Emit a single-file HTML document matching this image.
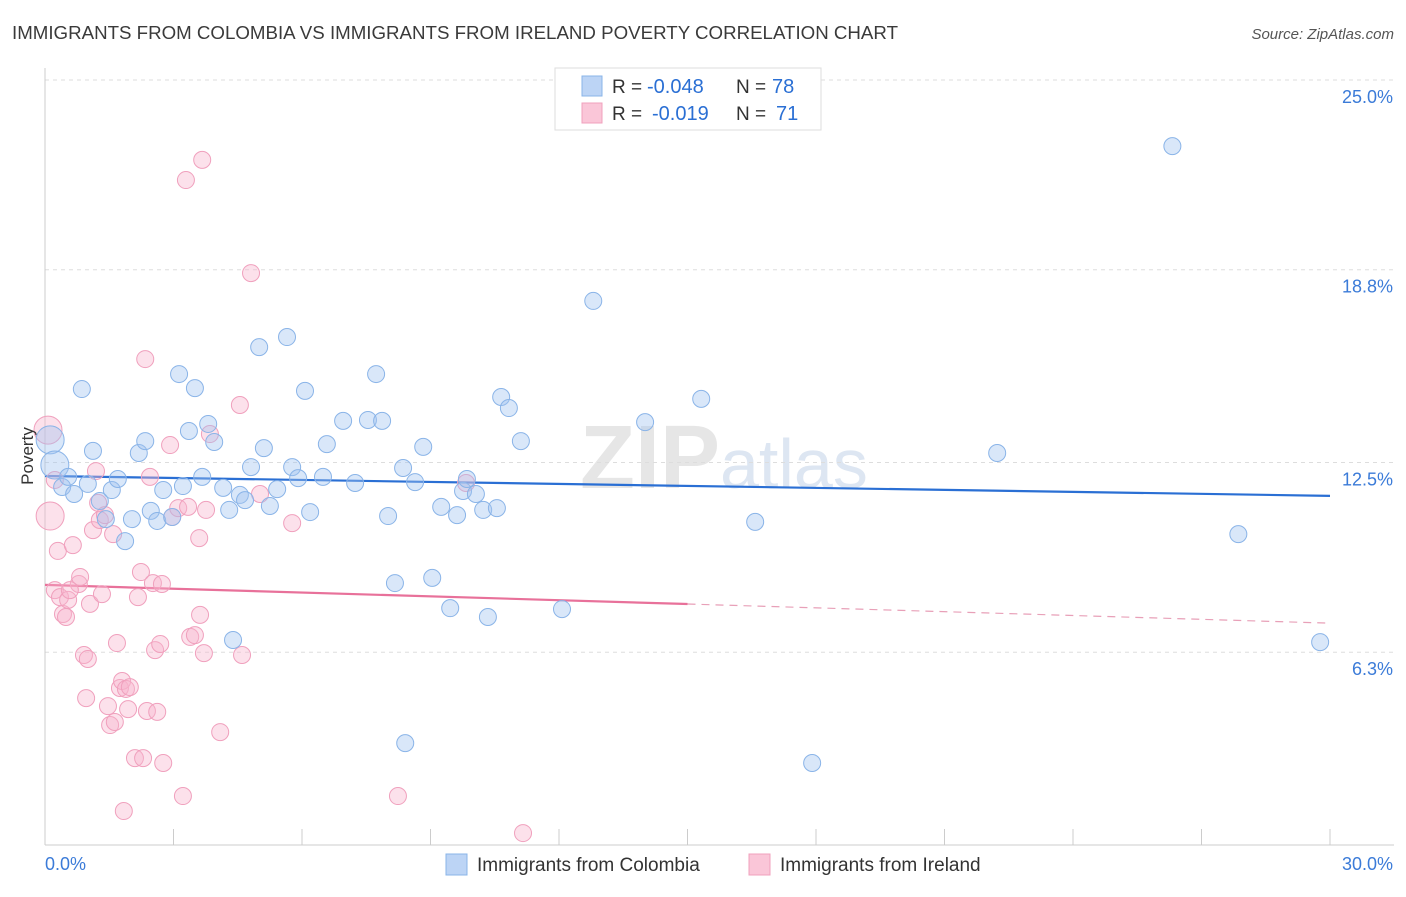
<!DOCTYPE html>
<html><head><meta charset="utf-8">
<style>
body{margin:0;background:#fff;font-family:"Liberation Sans",sans-serif;}
svg text{font-family:"Liberation Sans",sans-serif;}
</style></head>
<body>
<svg id="chart" width="1406" height="892" xmlns="http://www.w3.org/2000/svg">
<text x="12" y="39" font-size="18" fill="#3a3a3a" textLength="886" lengthAdjust="spacingAndGlyphs">IMMIGRANTS FROM COLOMBIA VS IMMIGRANTS FROM IRELAND POVERTY CORRELATION CHART</text>
<text x="1394" y="39" font-size="15" fill="#555" text-anchor="end" font-style="italic">Source: ZipAtlas.com</text>
<text x="720" y="488" font-size="90" fill="#e6e6e6" text-anchor="end" font-family="Liberation Serif" font-weight="bold">ZIP</text>
<text x="720" y="488" font-size="70" fill="#dde6f2">atlas</text>
<g id="grid"></g>
<g id="axes"></g>
<g id="lines"></g>
<g id="points"></g>
<text transform="translate(33,456) rotate(-90)" font-size="17" fill="#333" text-anchor="middle">Poverty</text>
<g>
<rect x="555" y="68" width="266" height="62" fill="#fff" stroke="#ddd"/>
<rect x="582" y="76" width="20" height="20" fill="#bcd4f5" stroke="#8ab4e8"/>
<rect x="582" y="103" width="20" height="20" fill="#fac6d8" stroke="#f0a0bd"/>
<text x="612" y="93" font-size="19" fill="#333">R =</text>
<text x="647" y="93" font-size="20" fill="#2a6fd4">-0.048</text>
<text x="736" y="93" font-size="19" fill="#333">N =</text>
<text x="772" y="93" font-size="20" fill="#2a6fd4">78</text>
<text x="612" y="120" font-size="19" fill="#333">R =</text>
<text x="652" y="120" font-size="20" fill="#2a6fd4">-0.019</text>
<text x="736" y="120" font-size="19" fill="#333">N =</text>
<text x="776" y="120" font-size="20" fill="#2a6fd4">71</text>
</g>
<g>
<rect x="446" y="854" width="21" height="21" fill="#bcd4f5" stroke="#8ab4e8"/>
<text x="477" y="871" font-size="19" fill="#333">Immigrants from Colombia</text>
<rect x="749" y="854" width="21" height="21" fill="#fac6d8" stroke="#f0a0bd"/>
<text x="780" y="871" font-size="19" fill="#333">Immigrants from Ireland</text>
</g>
</svg>
<script>
const yTicks=[25.0,18.8,12.5,6.3];
const yTickLabels=["25.0%","18.8%","12.5%","6.3%"];
const xTickLabels=["0.0%","30.0%"];
const colombiaX=[0.12,0.23,0.40,0.54,0.68,0.86,1.00,1.12,1.28,1.42,1.56,1.70,1.87,2.03,2.19,2.34,2.47,2.62,2.76,2.97,3.13,3.22,3.36,3.50,3.67,3.81,3.95,4.16,4.30,4.55,4.67,4.81,5.00,5.11,5.25,5.42,5.65,5.77,5.91,6.07,6.19,6.49,6.58,6.96,7.24,7.54,7.73,7.87,8.01,8.17,8.36,8.41,8.64,8.83,9.04,9.25,9.46,9.62,9.76,9.85,10.06,10.23,10.34,10.55,10.65,10.83,11.11,12.07,12.80,14.01,15.32,16.58,17.91,22.23,26.32,27.86,29.77,4.39];
const colombiaY=[13.24,12.42,11.70,12.03,11.47,14.90,11.80,12.88,11.24,10.65,11.60,11.96,9.93,10.65,12.81,13.20,10.92,10.59,11.60,10.72,15.39,11.73,13.53,14.93,12.03,13.76,13.17,11.67,10.95,11.44,11.27,12.35,16.27,12.97,11.08,11.63,16.60,12.35,11.99,14.84,10.88,12.03,13.10,13.86,11.83,13.89,15.39,13.86,10.75,8.56,12.32,3.33,11.86,13.01,8.73,11.05,7.74,10.78,11.57,11.96,11.47,10.95,7.45,11.01,14.64,14.28,13.20,7.71,17.78,13.82,14.58,10.56,2.68,12.81,22.84,10.16,6.63,6.70];
const irelandX=[0.07,0.12,0.23,0.30,0.23,0.35,0.42,0.49,0.54,0.65,0.79,0.82,0.91,0.96,1.00,1.05,1.12,1.19,1.24,1.28,1.33,1.40,1.47,1.52,1.59,1.63,1.68,1.75,1.80,1.89,1.94,1.98,2.10,2.17,2.24,2.29,2.34,2.38,2.45,2.52,2.57,2.62,2.69,2.73,2.76,2.92,2.97,3.11,3.22,3.29,3.34,3.39,3.50,3.60,3.67,3.71,3.76,3.85,4.09,4.55,4.60,4.81,5.02,5.77,8.24,9.83,11.16,1.84,0.58,3.62];
const irelandY=[13.56,10.75,11.93,9.61,8.33,8.10,7.55,7.45,8.01,9.80,8.53,8.76,6.21,4.80,6.08,7.88,10.29,12.22,11.18,10.62,8.20,10.78,4.54,3.92,10.16,4.02,6.60,5.13,5.36,5.10,4.44,5.16,2.84,8.10,8.92,2.84,15.88,4.38,12.03,8.56,6.37,4.35,6.57,8.53,2.68,13.07,10.72,11.01,1.60,21.73,11.05,6.80,6.86,10.03,22.39,6.27,10.95,13.43,3.69,14.38,6.21,18.69,11.47,10.52,1.60,11.83,0.39,1.11,8.33,7.52];
const colombiaTrend=[12.06,11.41];
const irelandTrend=[8.50,7.25];
const irelandSolidEnd=15.0;

const NS="http://www.w3.org/2000/svg";
const X0=45,X1=1330,YTOP=80,PXPER=30.6;
function xs(v){return X0+(v/30)*(X1-X0);}
function ys(v){return YTOP+(25-v)*PXPER;}
function mk(tag,attrs,parent){const e=document.createElementNS(NS,tag);for(const k in attrs)e.setAttribute(k,attrs[k]);parent.appendChild(e);return e;}
const grid=document.getElementById('grid'),axes=document.getElementById('axes'),lines=document.getElementById('lines'),pts=document.getElementById('points');
yTicks.forEach((t,i)=>{
  const l=mk('line',{x1:X0,x2:1394,y1:ys(t),y2:ys(t),stroke:'#ddd','stroke-dasharray':'4,4'},grid);
  
  
  const tx=mk('text',{x:1393,y:ys(t)+23,'font-size':18,fill:'#3b7bd8','text-anchor':'end'},axes);
  tx.textContent=yTickLabels[i];
  
  
});
const yl=mk('line',{x1:X0,x2:X0,y1:68,y2:ys(0),stroke:'#ccc'},axes);


const xl=mk('line',{x1:X0,x2:1394,y1:ys(0),y2:ys(0),stroke:'#ccc'},axes);


for(let i=0;i<=10;i++){
  const tk=mk('line',{x1:xs(i*3),x2:xs(i*3),y1:ys(0)-16,y2:ys(0),stroke:'#ccc'},axes);
  
  
}
const xt0=mk('text',{x:45,y:870,'font-size':18,fill:'#3b7bd8'},axes);xt0.textContent=xTickLabels[0];


const xt1=mk('text',{x:1393,y:870,'font-size':18,fill:'#3b7bd8','text-anchor':'end'},axes);xt1.textContent=xTickLabels[1];



function dot(x,y,big,fill,stroke,name){
  const c=mk('circle',{cx:xs(x),cy:ys(y),r:big?14:8.5,fill:fill,stroke:stroke,'stroke-width':1},pts);
  
  
}
irelandX.forEach((x,i)=>dot(x,irelandY[i],i<2,'rgba(248,180,205,0.4)','#f0a0bd','ireland-point'));
colombiaX.forEach((x,i)=>dot(x,colombiaY[i],i<2,'rgba(160,196,240,0.4)','#8ab4e8','colombia-point'));

const bl=mk('line',{x1:xs(0),y1:ys(colombiaTrend[0]),x2:xs(30),y2:ys(colombiaTrend[1]),stroke:'#2a6fd4','stroke-width':2.2},lines);


const pm=irelandTrend[0]+(irelandTrend[1]-irelandTrend[0])*irelandSolidEnd/30;
const pl=mk('line',{x1:xs(0),y1:ys(irelandTrend[0]),x2:xs(irelandSolidEnd),y2:ys(pm),stroke:'#e8719a','stroke-width':2.2},lines);


const pd=mk('line',{x1:xs(irelandSolidEnd),y1:ys(pm),x2:xs(30),y2:ys(irelandTrend[1]),stroke:'#e8a0b8','stroke-width':1.2,'stroke-dasharray':'8,6'},lines);


</script>
</body></html>
